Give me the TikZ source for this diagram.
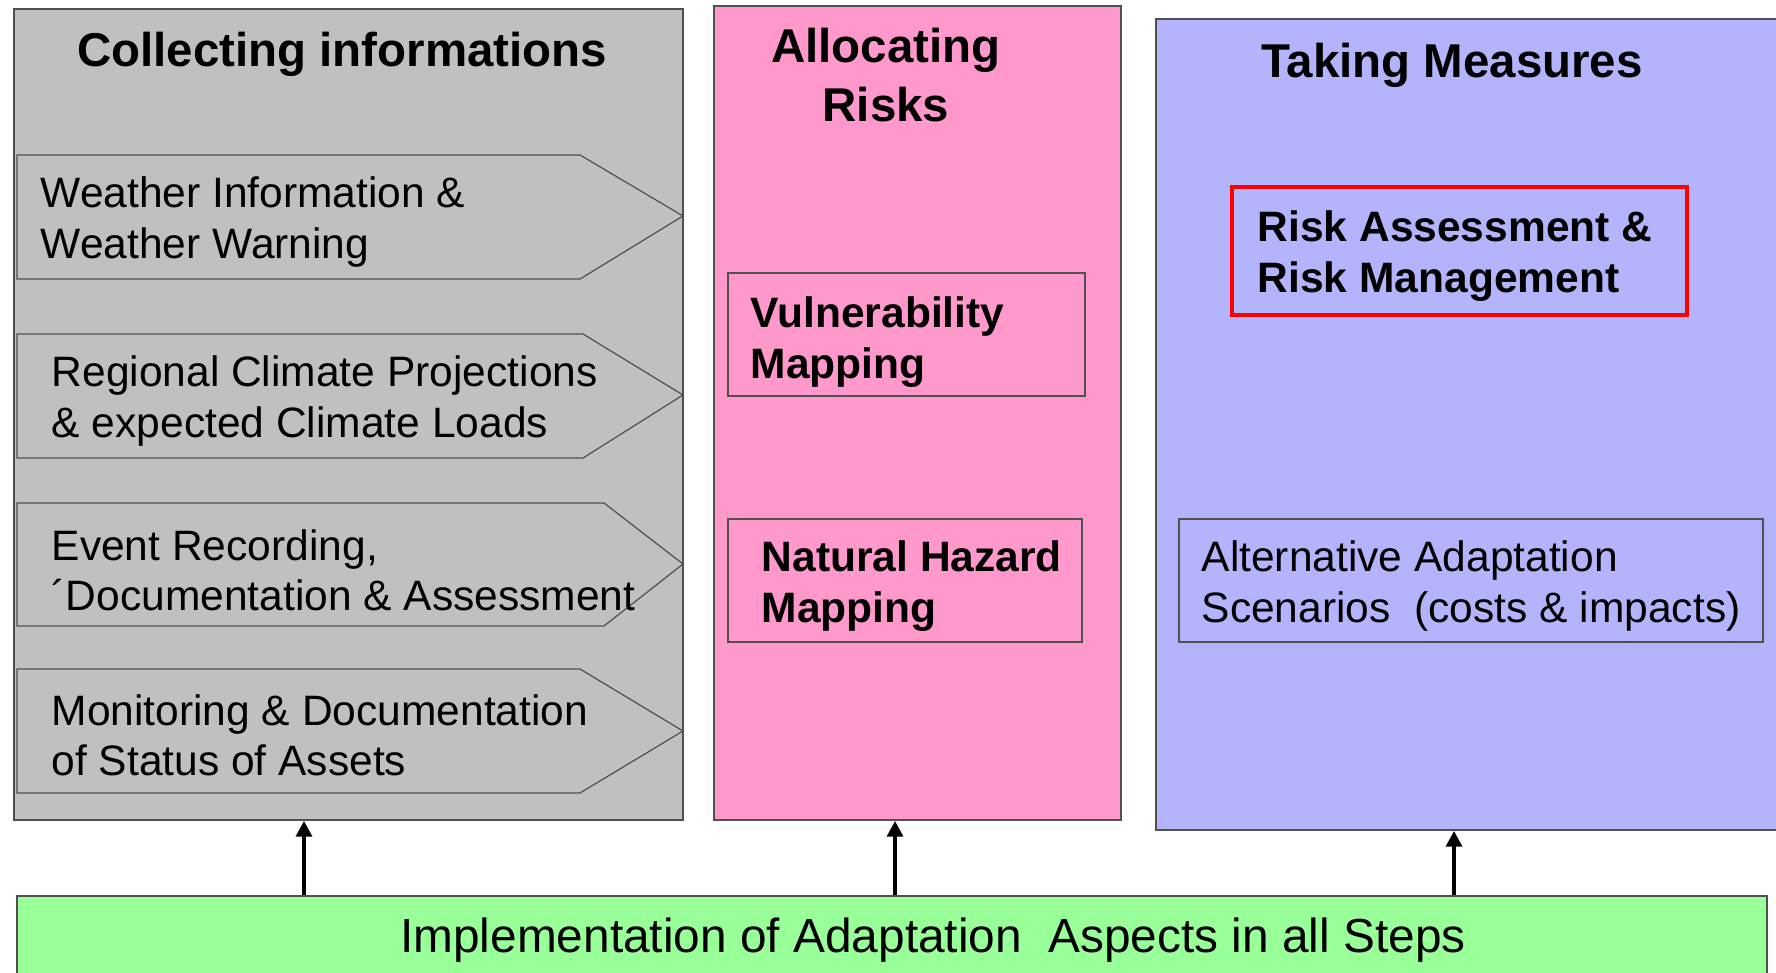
\documentclass[tikz,border=0pt]{standalone}
\usepackage{fontspec}
\setmainfont{Liberation Sans}
\usetikzlibrary{arrows.meta}

\definecolor{greybg}{HTML}{C0C0C0}
\definecolor{pinkbg}{HTML}{FF99CC}
\definecolor{bluebg}{HTML}{B4B4FD}
\definecolor{greenbg}{HTML}{99FF99}
\definecolor{edge}{HTML}{505050}

\tikzset{
	panel/.style={draw=edge, line width=0.5pt, inner sep=0pt},
	heading/.style={font=\fontsize{13.5}{16.8}\selectfont\bfseries, align=center, inner sep=0pt},
	item/.style={font=\fontsize{12.1}{14.3}\selectfont, align=left, anchor=west, inner sep=0pt},
	bolditem/.style={item, font=\fontsize{12.1}{14.3}\selectfont\bfseries},
	chevron/.style={fill=greybg, draw=edge, line width=0.35pt},
	mapbox/.style={draw=edge, line width=0.4pt},
	up/.style={line width=1.1pt, -{Triangle[length=4.5pt,width=4.5pt]}}
}

\begin{document}
\begin{tikzpicture}
	\useasboundingbox (0,0) rectangle (17.76,9.72);
	% the three columns and the base bar
	\node[panel, fill=greybg, minimum width=6.69cm, minimum height=8.11cm] (gather) at (3.485,5.575) {};
	\node[panel, fill=pinkbg, minimum width=4.07cm, minimum height=8.14cm] (alloc) at (9.175,5.59) {};
	\node[panel, fill=bluebg, minimum width=6.335cm, minimum height=8.11cm] (measure) at (14.73,5.475) {};
	\node[panel, fill=greenbg, minimum width=17.5cm, minimum height=0.96cm] (impl) at (8.92,0.28) {};

	\node[heading] (gathertitle) at (3.42,9.18) {Collecting informations};
	\node[heading] (alloctitle) at (8.86,8.97) {Allocating\\Risks};
	\node[heading] (measuretitle) at (14.52,9.07) {Taking Measures};

	% information sources
	\draw[chevron] (0.17,6.93) -- (5.80,6.93) -- (6.83,7.56) -- (5.80,8.17) -- (0.17,8.17) -- cycle;
	\node[item] (weather) at (0.40,7.50) {Weather Information \&\\Weather Warning};
	\draw[chevron] (0.17,5.14) -- (5.83,5.14) -- (6.83,5.77) -- (5.83,6.38) -- (0.17,6.38) -- cycle;
	\node[item] (climate) at (0.51,5.71) {Regional Climate Projections\\\& expected Climate Loads};
	\draw[chevron] (0.17,3.46) -- (6.04,3.46) -- (6.83,4.08) -- (6.04,4.69) -- (0.17,4.69) -- cycle;
	\node[item] (events) at (0.51,4.02) {Event Recording,\\´Documentation \& Assessment};
	\draw[chevron] (0.17,1.79) -- (5.80,1.79) -- (6.83,2.41) -- (5.80,3.03) -- (0.17,3.03) -- cycle;
	\node[item] (assets) at (0.51,2.37) {Monitoring \& Documentation\\of Status of Assets};

	% maps
	\draw[mapbox] (7.28,5.76) rectangle (10.85,6.99);
	\node[bolditem] (vuln) at (7.50,6.30) {Vulnerability\\Mapping};
	\draw[mapbox] (7.28,3.30) rectangle (10.82,4.53);
	\node[bolditem] (hazard) at (7.61,3.86) {Natural Hazard\\Mapping};

	% measures
	\draw[red, line width=1pt] (12.32,6.57) rectangle (16.87,7.85);
	\node[bolditem] (riskmgmt) at (12.57,7.16) {Risk Assessment \&\\Risk Management};
	\draw[mapbox] (11.79,3.30) rectangle (17.63,4.53);
	\node[item] (scenarios) at (12.01,3.86) {Alternative Adaptation\\Scenarios\ \ (costs \& impacts)};

	\node[font=\fontsize{13.6}{16}\selectfont, inner sep=0pt] (impltext) at (9.33,0.32) {Implementation of Adaptation\ \ Aspects in all Steps};

	\foreach \x/\p in {3.04/gather, 8.95/alloc, 14.54/measure}
		\draw[up] (impl.north -| \x,0) -- (\x,0 |- \p.south);
\end{tikzpicture}
\end{document}
